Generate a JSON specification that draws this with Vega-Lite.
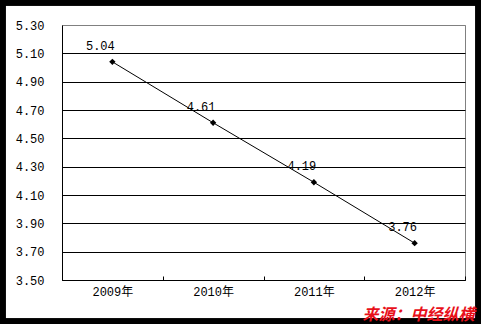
{
  "$schema": "https://vega.github.io/schema/vega-lite/v6.json",
  "width": 403,
  "height": 255,
  "autosize": "none",
  "padding": {"left": 62, "top": 25, "right": 16, "bottom": 44},
  "background": "white",
  "config": {
    "view": {"stroke": "#808080", "strokeWidth": 1},
    "font": "Liberation Mono, Noto Sans CJK SC"
  },
  "title": {
    "text": "来源：中经纵横",
    "orient": "bottom",
    "anchor": "end",
    "font": "Noto Sans CJK SC",
    "fontSize": 16,
    "fontWeight": "bold",
    "fontStyle": "italic",
    "color": "#e8101a",
    "offset": 0,
    "dx": -12,
    "dy": -23
  },
  "data": {
    "values": [
      {"year": "2009年", "value": 5.04},
      {"year": "2010年", "value": 4.61},
      {"year": "2011年", "value": 4.19},
      {"year": "2012年", "value": 3.76}
    ]
  },
  "encoding": {
    "x": {
      "field": "year",
      "type": "ordinal",
      "scale": {"type": "band", "paddingInner": 0, "paddingOuter": 0},
      "axis": {
        "title": null,
        "labelAngle": 0,
        "labelFont": "Liberation Mono, Noto Sans CJK SC",
        "labelFontSize": 12,
        "labelColor": "black",
        "labelPadding": 10,
        "domainColor": "black",
        "tickColor": "black",
        "tickBand": "extent",
        "tickSize": -4,
        "grid": false
      }
    },
    "y": {
      "field": "value",
      "type": "quantitative",
      "scale": {"domain": [3.5, 5.3], "nice": false, "zero": false},
      "axis": {
        "title": null,
        "values": [3.5, 3.7, 3.9, 4.1, 4.3, 4.5, 4.7, 4.9, 5.1, 5.3],
        "format": ".2f",
        "labelFont": "Liberation Mono",
        "labelFontSize": 12,
        "labelColor": "black",
        "labelPadding": 18,
        "tickSize": 0,
        "domainColor": "black",
        "grid": true,
        "gridColor": {"condition": {"test": "datum.value >= 5.29", "value": "#808080"}, "value": "black"},
        "gridOpacity": 1
      }
    }
  },
  "layer": [
    {
      "mark": {"type": "rect", "fill": null, "stroke": "black", "strokeWidth": 11, "clip": false},
      "encoding": {
        "x": {"value": -62},
        "x2": {"value": 419},
        "y": {"value": -25},
        "y2": {"value": 299}
      }
    },
    {"mark": {"type": "line", "color": "black", "strokeWidth": 1}},
    {"mark": {"type": "point", "shape": "diamond", "filled": true, "color": "black", "size": 40, "opacity": 1}},
    {
      "mark": {"type": "text", "font": "Liberation Mono", "fontSize": 12, "color": "black", "dx": -12, "dy": -16},
      "encoding": {"text": {"field": "value", "type": "quantitative", "format": ".2f"}}
    }
  ]
}
